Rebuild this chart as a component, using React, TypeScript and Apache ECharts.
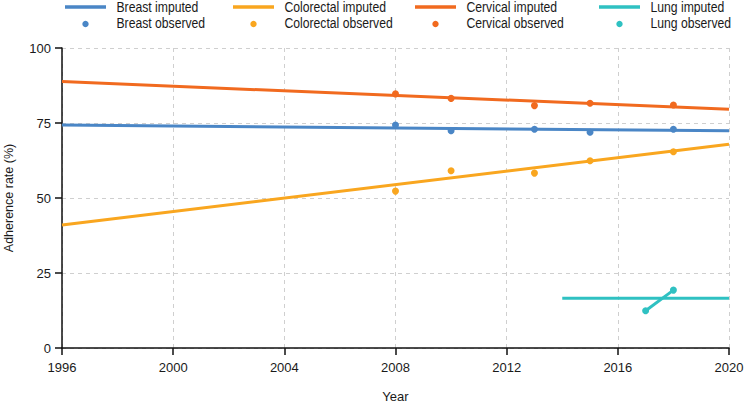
import React, { useEffect, useRef } from "react";
import * as echarts from "echarts";

const FONT = '"Liberation Sans", Arial, sans-serif';

const xTickYears = [1996, 2000, 2004, 2008, 2012, 2016, 2020];
const yTicks = [0, 25, 50, 75, 100];

const observedYears = [2008, 2010, 2013, 2015, 2018];
const breastObserved = [74.3, 72.4, 72.9, 71.9, 72.9];
const colorectalObserved = [52.3, 59.1, 58.3, 62.4, 65.4];
const cervicalObserved = [84.7, 83.2, 80.8, 81.6, 81.0];

const imputedYears = [1996, 2020];
const breastImputed = [74.3, 72.4];
const colorectalImputed = [41.0, 67.9];
const cervicalImputed = [88.8, 79.6];

const lungImputedYears = [2014, 2020];
const lungImputed = [16.6, 16.6];
const lungObservedYears = [2017, 2018];
const lungObserved = [12.4, 19.3];

const COLORS = {
  breast: "#4a86c6",
  colorectal: "#f9a61f",
  cervical: "#f16a1f",
  lung: "#2fc1c2",
};

const legendColumns = [
  { imp: "Breast imputed", obs: "Breast observed", color: COLORS.breast },
  { imp: "Colorectal imputed", obs: "Colorectal observed", color: COLORS.colorectal },
  { imp: "Cervical imputed", obs: "Cervical observed", color: COLORS.cervical },
  { imp: "Lung imputed", obs: "Lung observed", color: COLORS.lung },
];

const zip = (xs: number[], ys: number[]) => xs.map((x, i) => [x, ys[i]]);

export default function App() {
  const ref = useRef<HTMLDivElement>(null);
  useEffect(() => {
    document.body.style.margin = "0";
    if (!ref.current) return;
    const chart = echarts.init(ref.current, undefined, { renderer: "svg" });

    const colLefts = [65, 233, 415, 599];
    const iconW = 41;
    const textOffset = 51.5;
    const rowY = [7, 23.5];
    const legendGraphics: any[] = [];
    legendColumns.forEach((c, i) => {
      const x0 = colLefts[i];
      legendGraphics.push({
        type: "line",
        shape: { x1: x0, y1: rowY[0], x2: x0 + iconW, y2: rowY[0] },
        style: { stroke: c.color, lineWidth: 3.5 },
      });
      legendGraphics.push({
        type: "circle",
        shape: { cx: x0 + iconW / 2, cy: rowY[1] + 0.5, r: 3.2 },
        style: { fill: c.color },
      });
      [c.imp, c.obs].forEach((label, r) => {
        legendGraphics.push({
          type: "text",
          x: x0 + textOffset,
          y: rowY[r],
          scaleX: 0.87,
          style: {
            text: label,
            fontFamily: FONT,
            fontSize: 14,
            fill: "#1a1a1a",
            textAlign: "left",
            textVerticalAlign: "middle",
          },
        });
      });
    });

    const lineSeries = (name: string, xs: number[], ys: number[], color: string) => ({
      name,
      type: "line",
      data: zip(xs, ys),
      symbol: "none",
      showSymbol: false,
      lineStyle: { width: 3, color },
      itemStyle: { color },
      z: 2,
    });
    const scatterSeries = (name: string, xs: number[], ys: number[], color: string) => ({
      name,
      type: "scatter",
      data: zip(xs, ys),
      symbol: "circle",
      symbolSize: 7,
      itemStyle: { color, opacity: 1 },
      z: 3,
    });

    chart.setOption({
      animation: false,
      textStyle: { fontFamily: FONT },
      grid: {
        left: 62,
        right: 15,
        top: 48,
        bottom: 60,
        containLabel: false,
        outerBoundsMode: "none",
      },
      graphic: legendGraphics,
      xAxis: {
        type: "value",
        min: xTickYears[0],
        max: xTickYears[xTickYears.length - 1],
        interval: 4,
        name: "Year",
        nameLocation: "middle",
        nameGap: 42,
        nameTextStyle: { fontFamily: FONT, fontSize: 13, color: "#1a1a1a" },
        axisLine: { show: true, lineStyle: { color: "#111", width: 1.5 } },
        axisTick: { show: true, length: 7, lineStyle: { color: "#111", width: 1.5 } },
        axisLabel: {
          fontFamily: FONT,
          fontSize: 13,
          color: "#1a1a1a",
          margin: 13,
          formatter: (v: number) => String(v),
        },
        splitLine: { show: true, lineStyle: { type: [4, 4], color: "#cfcfcf", width: 1 } },
      },
      yAxis: {
        type: "value",
        min: yTicks[0],
        max: yTicks[yTicks.length - 1],
        interval: 25,
        name: "Adherence rate (%)",
        nameLocation: "middle",
        nameGap: 47,
        nameTextStyle: { fontFamily: FONT, fontSize: 12.5, color: "#1a1a1a" },
        axisLine: { show: true, lineStyle: { color: "#111", width: 1.5 } },
        axisTick: { show: true, length: 7, lineStyle: { color: "#111", width: 1.5 } },
        axisLabel: { fontFamily: FONT, fontSize: 13, color: "#1a1a1a", margin: 11 },
        splitLine: { show: true, lineStyle: { type: [4, 4], color: "#cfcfcf", width: 1 } },
      },
      series: [
        lineSeries("Breast imputed", imputedYears, breastImputed, COLORS.breast),
        lineSeries("Colorectal imputed", imputedYears, colorectalImputed, COLORS.colorectal),
        lineSeries("Cervical imputed", imputedYears, cervicalImputed, COLORS.cervical),
        lineSeries("Lung imputed", lungImputedYears, lungImputed, COLORS.lung),
        scatterSeries("Breast observed", observedYears, breastObserved, COLORS.breast),
        scatterSeries("Colorectal observed", observedYears, colorectalObserved, COLORS.colorectal),
        scatterSeries("Cervical observed", observedYears, cervicalObserved, COLORS.cervical),
        {
          name: "Lung observed",
          type: "line",
          data: zip(lungObservedYears, lungObserved),
          symbol: "circle",
          symbolSize: 7,
          showSymbol: true,
          lineStyle: { width: 3, color: COLORS.lung },
          itemStyle: { color: COLORS.lung },
          z: 3,
        },
      ],
    });
    return () => chart.dispose();
  }, []);
  return <div ref={ref} style={{ width: 744, height: 408 }} />;
}
